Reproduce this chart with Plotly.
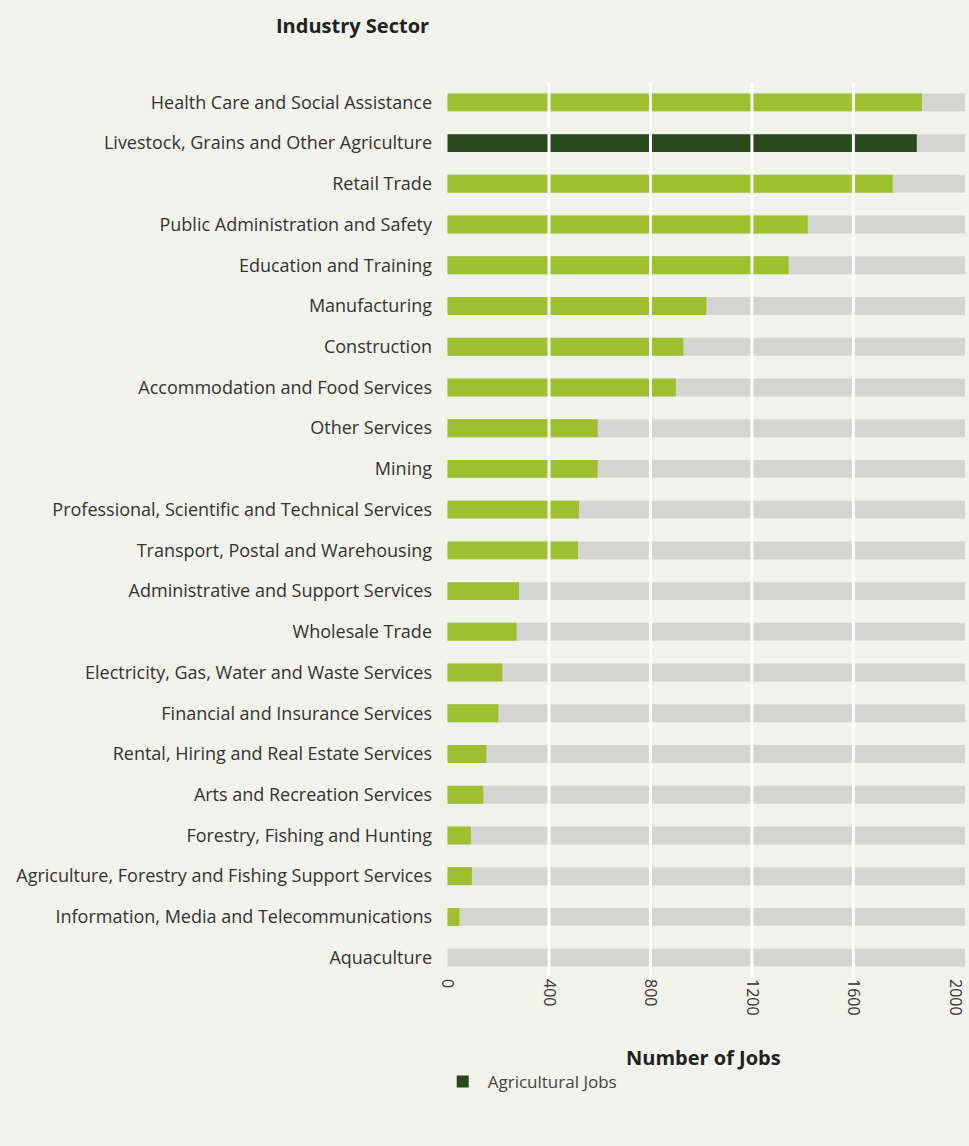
import plotly.graph_objects as go

categories = [
    "Health Care and Social Assistance",
    "Livestock, Grains and Other Agriculture",
    "Retail Trade",
    "Public Administration and Safety",
    "Education and Training",
    "Manufacturing",
    "Construction",
    "Accommodation and Food Services",
    "Other Services",
    "Mining",
    "Professional, Scientific and Technical Services",
    "Transport, Postal and Warehousing",
    "Administrative and Support Services",
    "Wholesale Trade",
    "Electricity, Gas, Water and Waste Services",
    "Financial and Insurance Services",
    "Rental, Hiring and Real Estate Services",
    "Arts and Recreation Services",
    "Forestry, Fishing and Hunting",
    "Agriculture, Forestry and Fishing Support Services",
    "Information, Media and Telecommunications",
    "Aquaculture",
]
jobs = [1870, 1850, 1755, 1420, 1345, 1020, 930, 900, 592, 592, 518, 514,
        282, 272, 216, 200, 153, 141, 92, 96, 47, 0]
agricultural = ["Livestock, Grains and Other Agriculture"]
tick_values = [0, 400, 800, 1200, 1600, 2000]
tick_labels = ["0", "400", "800", "1200", "1600", "2000"]
axis_max = 2040

BG = "#f1f2e9"
GREEN = "#9dc02e"
DARK = "#2a4a1e"
GREY = "#d4d5d3"
FONT = "Open Sans"

ag_vals = [v if c in agricultural else None for c, v in zip(categories, jobs)]
other_vals = [None if c in agricultural else v for c, v in zip(categories, jobs)]

fig = go.Figure()
fig.add_trace(go.Bar(y=categories, x=[axis_max] * len(categories), orientation="h",
                     marker=dict(color=GREY, line=dict(width=0)), showlegend=False,
                     hoverinfo="skip"))
fig.add_trace(go.Bar(y=categories, x=other_vals, orientation="h",
                     marker=dict(color=GREEN, line=dict(width=0)), showlegend=False,
                     name="Jobs"))
fig.add_trace(go.Bar(y=categories, x=ag_vals, orientation="h",
                     marker=dict(color=DARK, line=dict(width=0)), showlegend=True,
                     name="Agricultural Jobs"))

for t in tick_values[1:-1]:
    fig.add_shape(type="line", xref="x", yref="paper", x0=t, x1=t, y0=0, y1=1,
                  line=dict(color="white", width=3), layer="above")

fig.update_layout(
    width=969, height=1146,
    margin=dict(l=445, r=2, t=82, b=168),
    paper_bgcolor=BG, plot_bgcolor=BG,
    barmode="overlay", bargap=0.56,
    font=dict(family=FONT, size=18, color="#333333"),
    showlegend=True,
    legend=dict(orientation="h", x=-0.014, xanchor="left", y=-0.116, yanchor="middle",
                itemwidth=40,
                font=dict(size=17, color="#444444"), bgcolor="rgba(0,0,0,0)"),
    xaxis=dict(range=[-10, axis_max], tickvals=tick_values, ticktext=tick_labels,
               tickangle=90, showgrid=False, zeroline=False, showline=False,
               tickfont=dict(size=16, color="#333333")),
    yaxis=dict(categoryorder="array", categoryarray=categories[::-1],
               showgrid=False, zeroline=False, showline=False, ticklabelstandoff=12,
               tickfont=dict(size=18, color="#333333")),
    annotations=[
        dict(text="<b>Industry Sector</b>", xref="paper", yref="paper",
             x=-0.178, y=1.0636, xanchor="center", yanchor="middle", showarrow=False,
             font=dict(size=20, color="#222222")),
        dict(text="<b>Number of Jobs</b>", xref="paper", yref="paper",
             x=0.498, y=-0.089, xanchor="center", yanchor="middle", showarrow=False,
             font=dict(size=20, color="#222222")),
    ],
)

fig.write_html("out.html")
